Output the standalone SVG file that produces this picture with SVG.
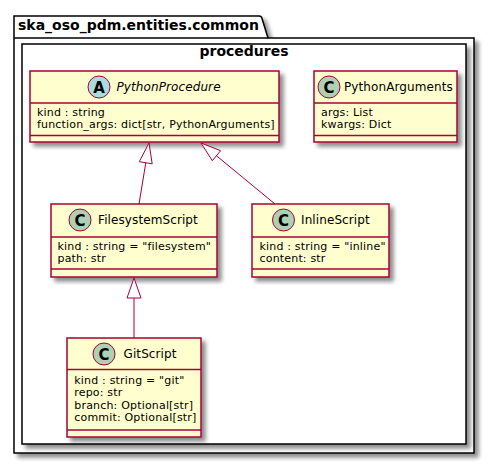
<svg xmlns="http://www.w3.org/2000/svg" width="495" height="464" viewBox="0 0 495 464">
<defs>
<filter id="sh" x="-5%" y="-5%" width="115%" height="115%">
<feGaussianBlur in="SourceAlpha" stdDeviation="2" result="b"/>
<feOffset in="b" dx="4" dy="4" result="o"/>
<feComponentTransfer in="o" result="g"><feFuncA type="linear" slope="0.45"/></feComponentTransfer>
<feFlood flood-color="#000000" result="f"/>
<feComposite in="f" in2="g" operator="in" result="s"/>
<feMerge><feMergeNode in="s"/><feMergeNode in="SourceGraphic"/></feMerge>
</filter>
</defs>
<style>
text{font-family:"DejaVu Sans","Liberation Sans",sans-serif;fill:#000}
.pkg{fill:#fff;stroke:#000;stroke-width:1.5}
.box{fill:#FEFECE;stroke:#A80036;stroke-width:1.5}
.sep{stroke:#A80036;stroke-width:1.5}
.cc{fill:#ADD1B2;stroke:#A80036;stroke-width:1}
.ca{fill:#A9DCDF;stroke:#A80036;stroke-width:1}
.glyph{font-size:15px;font-weight:bold;text-anchor:middle}
.name{font-size:12px;letter-spacing:0.1px}
.attr{font-size:11px;letter-spacing:0.18px}
.ptitle{font-size:14px;font-weight:bold}
.edge{stroke:#A80036;stroke-width:1;fill:none}
.head{stroke:#A80036;stroke-width:1;fill:#fff}
</style>
<g id="pkg-common">
<path class="pkg" filter="url(#sh)" d="M14,16 L259,16 A3,3 0 0 1 262,18.5 L268,38 L474,38 L474,453 L14,453 Z"/>
<line x1="14" y1="38" x2="268" y2="38" stroke="#000" stroke-width="1.5"/>
<text class="ptitle" x="18" y="30">ska_oso_pdm.entities.common</text>
</g>
<g id="pkg-procedures">
<rect class="pkg" filter="url(#sh)" x="22" y="44" width="444" height="400"/>
<text class="ptitle" x="244" y="56" text-anchor="middle">procedures</text>
</g>
<g id="PythonProcedure">
<rect class="box" filter="url(#sh)" x="30" y="71" width="249" height="71"/>
<circle class="ca" cx="99" cy="87" r="11"/>
<text class="glyph" x="99" y="92.5">A</text>
<text class="name" x="116.5" y="91" font-style="italic">PythonProcedure</text>
<line class="sep" x1="30" y1="103" x2="279" y2="103"/>
<text class="attr" x="37" y="115.5">kind : string</text>
<text class="attr" x="37" y="128">function_args: dict[str, PythonArguments]</text>
<line class="sep" x1="30" y1="135.5" x2="279" y2="135.5"/>
</g>
<g id="PythonArguments">
<rect class="box" filter="url(#sh)" x="314" y="71" width="143" height="71"/>
<circle class="cc" cx="329" cy="87" r="11"/>
<text class="glyph" x="329" y="92.5">C</text>
<text class="name" x="344" y="91">PythonArguments</text>
<line class="sep" x1="314" y1="103" x2="457" y2="103"/>
<text class="attr" x="321" y="115.5">args: List</text>
<text class="attr" x="321" y="128">kwargs: Dict</text>
<line class="sep" x1="314" y1="135.5" x2="457" y2="135.5"/>
</g>
<g id="FilesystemScript">
<rect class="box" filter="url(#sh)" x="51" y="204" width="166" height="73"/>
<circle class="cc" cx="80" cy="220" r="11"/>
<text class="glyph" x="80" y="225.5">C</text>
<text class="name" x="98" y="224">FilesystemScript</text>
<line class="sep" x1="51" y1="237" x2="217" y2="237"/>
<text class="attr" x="57.5" y="249.5">kind : string = "filesystem"</text>
<text class="attr" x="57.5" y="262">path: str</text>
<line class="sep" x1="51" y1="269" x2="217" y2="269"/>
</g>
<g id="InlineScript">
<rect class="box" filter="url(#sh)" x="252" y="204" width="137" height="73"/>
<circle class="cc" cx="283.5" cy="220" r="11"/>
<text class="glyph" x="283.5" y="225.5">C</text>
<text class="name" x="301" y="224">InlineScript</text>
<line class="sep" x1="252" y1="237" x2="389" y2="237"/>
<text class="attr" x="259.5" y="249.5">kind : string = "inline"</text>
<text class="attr" x="259.5" y="262">content: str</text>
<line class="sep" x1="252" y1="269" x2="389" y2="269"/>
</g>
<g id="GitScript">
<rect class="box" filter="url(#sh)" x="67" y="338" width="134" height="99"/>
<circle class="cc" cx="104" cy="354" r="11"/>
<text class="glyph" x="104" y="359.5">C</text>
<text class="name" x="123.5" y="358">GitScript</text>
<line class="sep" x1="67" y1="369.5" x2="201" y2="369.5"/>
<text class="attr" x="74.3" y="383.5">kind : string = "git"</text>
<text class="attr" x="74.3" y="396">repo: str</text>
<text class="attr" x="74.3" y="408.5">branch: Optional[str]</text>
<text class="attr" x="74.3" y="421">commit: Optional[str]</text>
<line class="sep" x1="67" y1="430" x2="201" y2="430"/>
</g>
<g id="connectors">
<path class="edge" d="M139,204 L145.8,162.7"/>
<polygon class="head" points="149,143 152.2,163.8 139.3,161.7"/>
<path class="edge" d="M275,204 L216.4,155.7"/>
<polygon class="head" points="201,143 212.3,160.7 220.6,150.7"/>
<path class="edge" d="M134,338 L134,298"/>
<polygon class="head" points="134,278 141,298 127,298"/>
</g>
</svg>
